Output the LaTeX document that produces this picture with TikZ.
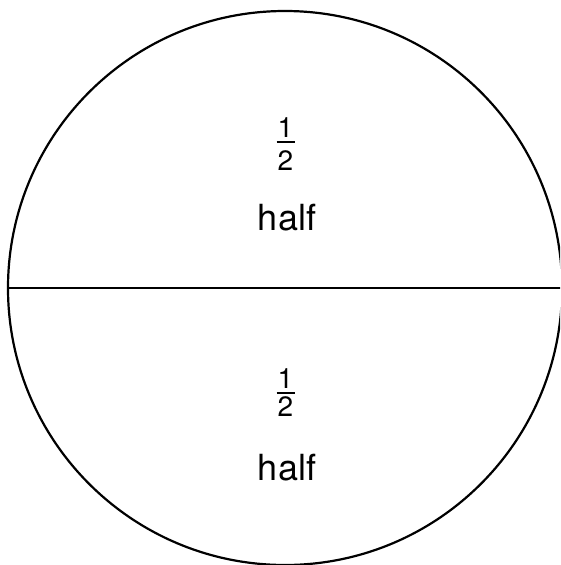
\documentclass[tikz,border=0pt]{standalone}
\usepackage{fontspec}
\setmainfont{TeX Gyre Heros}
\begin{document}
\begin{tikzpicture}[x=1pt,y=-1pt,
  outline/.style={line width=2.2pt,black},
  word/.style={anchor=base,inner sep=0pt,font=\fontsize{36}{40}\selectfont},
  digit/.style={anchor=base,inner sep=0pt,font=\fontsize{28}{32}\selectfont},
  fracbar/.style={line width=1.7pt}]
\useasboundingbox (0,0) rectangle (560,565);
\clip (0,0) rectangle (560,565);
\coordinate (c) at (285,288);
\draw[outline] (c) circle[radius=277];
\coordinate (l) at (8,288);
\coordinate (r) at (562,288);
\draw[outline] (l) -- (r);
% top half
\node[digit] (n1) at (285.5,137.7) {1};
\coordinate (b1l) at (276.5,142.3);
\coordinate (b1r) at (294.5,142.3);
\draw[fracbar] (b1l) -- (b1r);
\node[digit] (d1) at (285.5,170.7) {2};
\node[word] (h1) at (287,230) {half};
% bottom half
\node[digit] (n2) at (285.5,388) {1};
\coordinate (b2l) at (276.5,392.7);
\coordinate (b2r) at (294.5,392.7);
\draw[fracbar] (b2l) -- (b2r);
\node[digit] (d2) at (285.5,416.7) {2};
\node[word] (h2) at (287,480) {half};
\end{tikzpicture}
\end{document}
